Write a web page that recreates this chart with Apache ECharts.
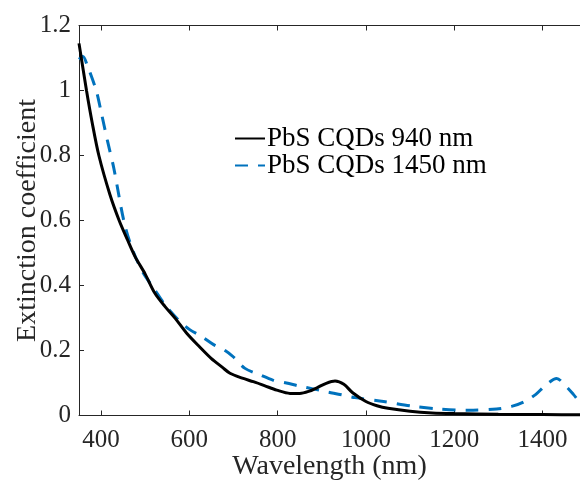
<!DOCTYPE html>
<html><head><meta charset="utf-8">
<script src="https://cdn.jsdelivr.net/npm/echarts@6/dist/echarts.min.js"></script>
<style>html,body{margin:0;padding:0;background:#fff}#c{width:580px;height:483px}</style>
</head><body><div id="c"></div>
<script>
const seriesNames = ['PbS CQDs 940 nm', 'PbS CQDs 1450 nm'];
const xTicks = [400, 600, 800, 1000, 1200, 1400];
const wl940 = [350, 367, 380, 395, 420, 441, 460, 477, 500, 522, 545, 568, 594, 624, 650, 675, 692, 720, 745, 770, 798, 828, 850, 870, 890, 910, 930, 950, 970, 1000, 1025, 1050, 1100, 1150, 1200, 1300, 1400, 1500];
const ext940 = [1.145, 1.0, 0.9, 0.8, 0.68, 0.6, 0.54, 0.489, 0.435, 0.376, 0.335, 0.299, 0.253, 0.21, 0.175, 0.148, 0.13, 0.115, 0.104, 0.092, 0.078, 0.068, 0.068, 0.074, 0.086, 0.099, 0.106, 0.096, 0.07, 0.043, 0.03, 0.022, 0.013, 0.008, 0.006, 0.004, 0.003, 0.002];
const wl1450 = [350, 359, 368, 389, 400, 414, 429, 452, 471, 495, 520, 545, 575, 600, 628, 655, 681, 700, 726, 760, 789, 820, 851, 880, 911, 945, 975, 1040, 1104, 1168, 1232, 1296, 1330, 1357, 1385, 1407, 1432, 1454, 1470, 1485, 1500];
const ext1450 = [1.096, 1.105, 1.08, 1.0, 0.935, 0.848, 0.76, 0.596, 0.511, 0.44, 0.39, 0.34, 0.294, 0.265, 0.243, 0.218, 0.2, 0.18, 0.145, 0.125, 0.109, 0.1, 0.09, 0.082, 0.073, 0.064, 0.055, 0.043, 0.029, 0.02, 0.016, 0.02, 0.028, 0.041, 0.065, 0.093, 0.114, 0.089, 0.065, 0.04, 0.02];

const d940 = wl940.map((x, i) => [x, ext940[i]]);
const d1450 = wl1450.map((x, i) => [x, ext1450[i]]);

const fontFam = '"Liberation Serif", "Times New Roman", serif';
const txt = '#262626';
const chart = echarts.init(document.getElementById('c'), null, {renderer: 'canvas'});
const baseX = {
  type: 'value', min: 350, max: 1485,
  axisLine: {show: true, lineStyle: {color: txt, width: 1}},
  axisTick: {show: true, inside: true, length: 5, lineStyle: {color: txt}, customValues: xTicks},
  splitLine: {show: false}
};
chart.setOption({
  animation: false,
  backgroundColor: '#fff',
  grid: {left: 79, right: 0, top: 25.5, bottom: 67.5, containLabel: false, outerBoundsMode: 'none'},
  legend: {
    left: 229, top: 120, orient: 'vertical',
    itemWidth: 30, itemHeight: 14, itemGap: 0,
    itemStyle: {opacity: 0},
    textStyle: {fontFamily: fontFam, fontSize: 27, color: '#000', padding: [0,0,0,-3]},
    data: seriesNames
  },
  xAxis: [
    Object.assign({}, baseX, {
      position: 'bottom',
      axisLabel: {show: true, customValues: xTicks, formatter: v => String(v), fontFamily: fontFam, fontSize: 25, color: txt, margin: 12},
      name: 'Wavelength (nm)', nameLocation: 'middle', nameGap: 37, nameMoveOverlap: false,
      nameTextStyle: {fontFamily: fontFam, fontSize: 28, color: txt}
    }),
    Object.assign({}, baseX, {position: 'top', axisLabel: {show: false}})
  ],
  yAxis: [
    {
      type: 'value', min: 0, max: 1.2, interval: 0.2, position: 'left',
      axisLine: {show: true, lineStyle: {color: txt, width: 1}},
      axisTick: {show: true, inside: true, length: 5, lineStyle: {color: txt}},
      splitLine: {show: false},
      axisLabel: {show: true, fontFamily: fontFam, fontSize: 25, color: txt, margin: 8},
      name: 'Extinction coefficient', nameLocation: 'middle', nameGap: 37, nameMoveOverlap: false,
      nameTextStyle: {fontFamily: fontFam, fontSize: 28, color: txt}
    }
  ],
  series: [
    {name: seriesNames[0], type: 'line', data: d940, smooth: 0.3, showSymbol: false, symbol: 'none',
     lineStyle: {color: '#000', width: 3}, itemStyle: {color: '#000'}, xAxisIndex: 0, yAxisIndex: 0, z: 3},
    {name: seriesNames[1], type: 'line', data: d1450, smooth: 0.3, showSymbol: false, symbol: 'none',
     lineStyle: {color: '#0072BD', width: 3, type: [13, 10]}, itemStyle: {color: '#0072BD'}, xAxisIndex: 0, yAxisIndex: 0, z: 2}
  ]
});
</script></body></html>
